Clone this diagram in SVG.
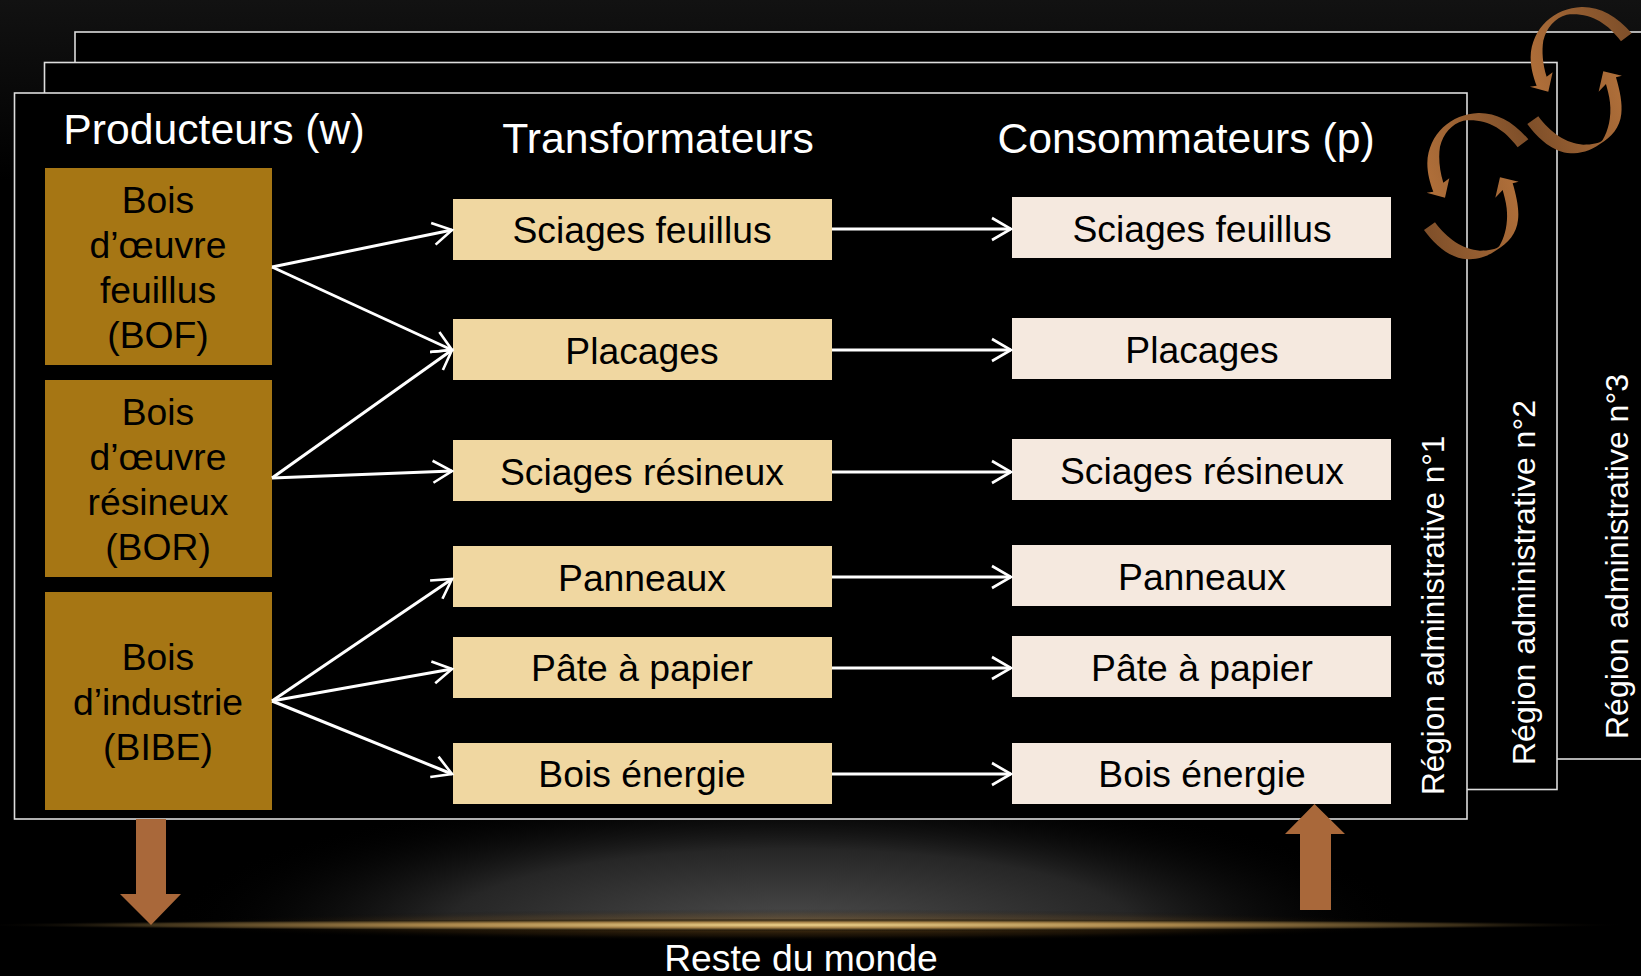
<svg xmlns="http://www.w3.org/2000/svg" width="1641" height="976" viewBox="0 0 1641 976">
<style>
text{font-family:"Liberation Sans",Arial,sans-serif;font-size:37.3px;text-anchor:middle;fill:#000}
.w{fill:#fff}
.t{font-size:42.7px}
.r{font-size:31.9px;text-anchor:start}
.f{fill:#000;stroke:#ddd;stroke-width:1.6}
.p{fill:#a67614}
.tr{fill:#f0d7a1}
.c{fill:#f5e9df}
.l{stroke:#fff;stroke-width:3;fill:none;marker-end:url(#a)}
.b{fill:#a9683a}
</style>
<defs>
<marker id="a" markerUnits="userSpaceOnUse" markerWidth="30" markerHeight="30" refX="22" refY="15" orient="auto"><path d="M3 4L22 15L3 26" fill="none" stroke="#fff" stroke-width="2.6"/></marker>
<linearGradient id="bg" x1="0" y1="0" x2="0" y2="1"><stop offset="0" stop-color="#121212"/><stop offset="1" stop-color="#000"/></linearGradient>
<radialGradient id="g1"><stop offset="0" stop-color="#4c4c4c"/><stop offset=".55" stop-color="#262626"/><stop offset="1" stop-color="#000" stop-opacity="0"/></radialGradient>
<radialGradient id="g2"><stop offset="0" stop-color="#f0d48c"/><stop offset=".45" stop-color="#a8854a"/><stop offset=".8" stop-color="#3a2e18"/><stop offset="1" stop-color="#000" stop-opacity="0"/></radialGradient>
<radialGradient id="g3"><stop offset="0" stop-color="#b07c30" stop-opacity=".6"/><stop offset=".7" stop-color="#5a3c14" stop-opacity=".25"/><stop offset="1" stop-color="#000" stop-opacity="0"/></radialGradient>
<clipPath id="up"><rect width="1641" height="926"/></clipPath>
<linearGradient id="s1" gradientUnits="userSpaceOnUse" x1="430" y1="420" x2="150" y2="520"><stop offset="0" stop-color="#80502a"/><stop offset="1" stop-color="#ae6e39"/></linearGradient>
<linearGradient id="s2" gradientUnits="userSpaceOnUse" x1="140" y1="680" x2="410" y2="600"><stop offset="0" stop-color="#80502a"/><stop offset="1" stop-color="#ae6e39"/></linearGradient>
<g id="sw">
<path fill="url(#s1)" d="M445 418C400 365 350 338 295 339C215 342 145 400 142 490C142 520 150 550 160 575L140 578L195 593L208 535L190 548C178 510 175 470 180 440C190 400 215 372 250 362C320 355 370 385 413 442Z"/>
<path fill="url(#s2)" d="M132 690L165 667C200 715 250 750 300 752C325 752 350 748 358 738C375 710 385 670 380 625C378 605 372 585 368 570L346 593L360 532L416 545L398 550C410 590 418 630 414 660C410 700 385 730 350 750C320 772 290 778 262 778C210 775 165 735 132 690Z"/>
</g>
</defs>
<rect id="background" width="1641" height="180" fill="url(#bg)"/>
<rect y="180" width="1641" height="796" fill="#000"/>
<g clip-path="url(#up)"><ellipse cx="790" cy="926" rx="620" ry="140" fill="url(#g1)"/></g>
<ellipse cx="800" cy="925" rx="640" ry="16" fill="url(#g3)"/>
<ellipse cx="800" cy="925" rx="830" ry="6" fill="url(#g2)"/>
<g id="frame3"><rect class="f" x="75" y="32" width="1600" height="727"/><text class="r w" transform="translate(1628 739) rotate(-90)" style="font-size:32px">Région administrative n°3</text></g>
<g id="frame2"><rect class="f" x="44.500" y="62.500" width="1512.500" height="727"/><text class="r w" transform="translate(1535 765) rotate(-90)" style="font-size:32px">Région administrative n°2</text></g>
<g id="frame1"><rect class="f" x="14.500" y="93" width="1452.500" height="726"/><text class="r w" transform="translate(1444 795) rotate(-90)" style="font-size:31.5px">Région administrative n°1</text></g>
<g id="titles">
<text class="t w" x="214" y="144">Producteurs (w)</text>
<text class="t w" x="658" y="153">Transformateurs</text>
<text class="t w" x="1186" y="153">Consommateurs (p)</text>
</g>
<g id="prod-bof"><rect class="p" x="45" y="168" width="227" height="197"/><text x="158" y="213">Bois</text><text x="158" y="258">d’œuvre</text><text x="158" y="303">feuillus</text><text x="158" y="348">(BOF)</text></g>
<g id="prod-bor"><rect class="p" x="45" y="380" width="227" height="197"/><text x="158" y="425">Bois</text><text x="158" y="470">d’œuvre</text><text x="158" y="515">résineux</text><text x="158" y="560">(BOR)</text></g>
<g id="prod-bibe"><rect class="p" x="45" y="592" width="227" height="218"/><text x="158" y="670">Bois</text><text x="158" y="715">d’industrie</text><text x="158" y="760">(BIBE)</text></g>
<g id="t1"><rect class="tr" x="453" y="199" width="379" height="61"/><text x="642" y="243">Sciages feuillus</text></g>
<g id="t2"><rect class="tr" x="453" y="319" width="379" height="61"/><text x="642" y="364">Placages</text></g>
<g id="t3"><rect class="tr" x="453" y="440" width="379" height="61"/><text x="642" y="485">Sciages résineux</text></g>
<g id="t4"><rect class="tr" x="453" y="546" width="379" height="61"/><text x="642" y="591">Panneaux</text></g>
<g id="t5"><rect class="tr" x="453" y="637" width="379" height="61"/><text x="642" y="681">Pâte à papier</text></g>
<g id="t6"><rect class="tr" x="453" y="743" width="379" height="61"/><text x="642" y="787">Bois énergie</text></g>
<g id="c1"><rect class="c" x="1012" y="197" width="379" height="61"/><text x="1202" y="242">Sciages feuillus</text></g>
<g id="c2"><rect class="c" x="1012" y="318" width="379" height="61"/><text x="1202" y="363">Placages</text></g>
<g id="c3"><rect class="c" x="1012" y="439" width="379" height="61"/><text x="1202" y="484">Sciages résineux</text></g>
<g id="c4"><rect class="c" x="1012" y="545" width="379" height="61"/><text x="1202" y="590">Panneaux</text></g>
<g id="c5"><rect class="c" x="1012" y="636" width="379" height="61"/><text x="1202" y="681">Pâte à papier</text></g>
<g id="c6"><rect class="c" x="1012" y="743" width="379" height="61"/><text x="1202" y="787">Bois énergie</text></g>
<g id="connectors">
<path class="l" d="M272 267L452 230"/>
<path class="l" d="M272 267L452 350"/>
<path class="l" d="M272 478L452 350"/>
<path class="l" d="M272 478L452 471"/>
<path class="l" d="M272 701L452 579"/>
<path class="l" d="M272 701L452 669"/>
<path class="l" d="M272 701L452 774"/>
<path class="l" d="M832 229L1011 229"/>
<path class="l" d="M832 350L1011 350"/>
<path class="l" d="M832 472L1011 472"/>
<path class="l" d="M832 577L1011 577"/>
<path class="l" d="M832 668L1011 668"/>
<path class="l" d="M832 774L1011 774"/>
<path id="export-arrow" class="b" d="M136 819H166V894H181L151 925L120 894H136Z"/>
<path id="import-arrow" class="b" d="M1300 910V834H1285L1314.500 804L1345 834H1331V910Z"/>
</g>
<g id="swirl1" transform="translate(1380 0) scale(.3333)"><use href="#sw"/></g>
<g id="swirl2" transform="translate(1483.300 -106) scale(.3333)"><use href="#sw"/></g>
<text id="world" class="w" x="801" y="971">Reste du monde</text>
</svg>
